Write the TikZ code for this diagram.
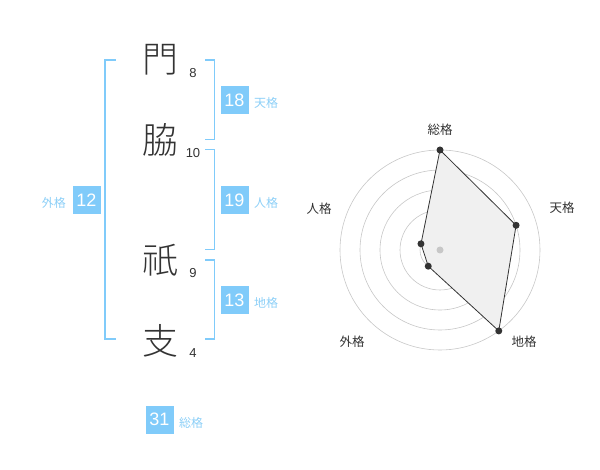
\documentclass[tikz,border=0pt]{standalone}
\usepackage{fontspec}
\setmainfont{Liberation Sans}
\newfontfamily\jp{Noto Sans CJK JP}
\newfontfamily\jpl{Noto Sans CJK JP Light}
\definecolor{boxblue}{HTML}{80CBFA}
\definecolor{lblblue}{HTML}{8CCFF7}
\definecolor{brk}{HTML}{80CBFA}
\definecolor{ink}{HTML}{333333}
\begin{document}
\begin{tikzpicture}[x=1pt,y=-1pt,
  kanji/.style={font=\jpl\fontsize{36}{36}\selectfont, text=ink, inner sep=0pt},
  strokes/.style={font=\fontsize{13}{13}\selectfont, text=ink, inner sep=0pt},
  valbox/.style={fill=boxblue, text=white, minimum width=28pt, minimum height=28pt, inner sep=0pt, font=\fontsize{18}{18}\selectfont},
  lbl/.style={text=lblblue, font=\jp\fontsize{12}{12}\selectfont, inner sep=0pt},
  bracket/.style={draw=brk, line width=1.6pt},
  ring/.style={draw=black!22, line width=0.6pt},
  rlbl/.style={text=ink, font=\jp\fontsize{12.5}{12.5}\selectfont, inner sep=0pt},
  dot/.style={circle, fill=ink, inner sep=0pt, minimum size=7pt},
  poly/.style={draw=ink, line width=0.8pt, fill=black!6}]
\useasboundingbox (0,0) rectangle (600,470);
% characters
\node[kanji] (c1) at (160,60) {門};
\node[kanji] (c2) at (160,140) {脇};
\node[kanji] (c3) at (160,260) {祇};
\node[kanji] (c4) at (160,341) {支};
\node[strokes] (n1) at (193,73) {8};
\node[strokes] (n2) at (193,153) {10};
\node[strokes] (n3) at (193,273) {9};
\node[strokes] (n4) at (193,353) {4};
% brackets
\draw[bracket] (115.5,60) -- (105,60) -- (105,339) -- (115.5,339);
\draw[bracket] (205,60) -- (214.5,60) -- (214.5,139.5) -- (205,139.5);
\draw[bracket] (205,149.5) -- (214.5,149.5) -- (214.5,249.5) -- (205,249.5);
\draw[bracket] (205,260) -- (214.5,260) -- (214.5,339) -- (205,339);
% value boxes
\node[valbox] (b18) at (234.5,100.5) {18};
\node[lbl, anchor=west] (l18) at (254,103) {天格};
\node[valbox] (b19) at (234.5,200.5) {19};
\node[lbl, anchor=west] (l19) at (254,203) {人格};
\node[valbox] (b13) at (234.5,300.5) {13};
\node[lbl, anchor=west] (l13) at (254,303) {地格};
\node[valbox] (b12) at (86.5,200.5) {12};
\node[lbl, anchor=east] (l12) at (66,203) {外格};
\node[valbox] (b31) at (159.5,419.5) {31};
\node[lbl, anchor=west] (l31) at (179,423) {総格};
% radar
\coordinate (O) at (440,250);
\foreach \r in {20,40,60,80,100} \draw[ring] (O) circle (\r);
\path (O) ++(-90:100) coordinate (pA);
\path (O) ++(-18:80) coordinate (pB);
\path (O) ++(54:100) coordinate (pC);
\path (O) ++(126:20) coordinate (pD);
\path (O) ++(198:20) coordinate (pE);
\draw[poly] (pA) -- (pB) -- (pC) -- (pD) -- (pE) -- cycle;
\node[circle, fill=black!22, inner sep=0pt, minimum size=7pt] (ctr) at (O) {};
\foreach \p in {pA,pB,pC,pD,pE} \node[dot] at (\p) {};
\node[rlbl] (rA) at (440,130) {総格};
\node[rlbl] (rB) at (562,208) {天格};
\node[rlbl] (rC) at (524,342) {地格};
\node[rlbl] (rD) at (352,342) {外格};
\node[rlbl] (rE) at (319,209) {人格};
\end{tikzpicture}
\end{document}
